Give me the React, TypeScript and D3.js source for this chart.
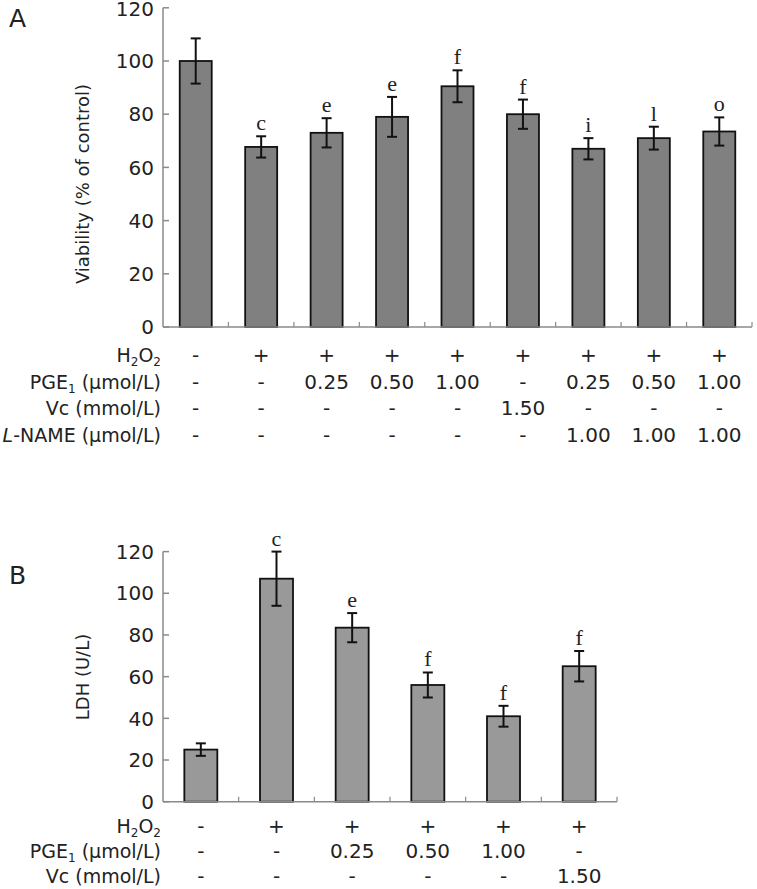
import React from 'react';
import * as d3 from 'd3';

// Panel A data
const categoriesA = ['1', '2', '3', '4', '5', '6', '7', '8', '9'];
const valuesA = [100, 67.7, 73, 79, 90.5, 80, 67, 71, 73.5];
const errorsA = [8.5, 4, 5.5, 7.5, 6, 5.5, 4, 4.3, 5.3];
const lettersA = ['', 'c', 'e', 'e', 'f', 'f', 'i', 'l', 'o'];
const ticksA = [0, 20, 40, 60, 80, 100, 120];
const rowA_H2O2 = ['-', '+', '+', '+', '+', '+', '+', '+', '+'];
const rowA_PGE1 = ['-', '-', '0.25', '0.50', '1.00', '-', '0.25', '0.50', '1.00'];
const rowA_Vc = ['-', '-', '-', '-', '-', '1.50', '-', '-', '-'];
const rowA_LNAME = ['-', '-', '-', '-', '-', '-', '1.00', '1.00', '1.00'];

// Panel B data
const categoriesB = ['1', '2', '3', '4', '5', '6'];
const valuesB = [25, 107, 83.5, 56, 41, 65];
const errorsB = [3, 13, 7, 6, 5, 7.3];
const lettersB = ['', 'c', 'e', 'f', 'f', 'f'];
const ticksB = [0, 20, 40, 60, 80, 100, 120];
const rowB_H2O2 = ['-', '+', '+', '+', '+', '+'];
const rowB_PGE1 = ['-', '-', '0.25', '0.50', '1.00', '-'];
const rowB_Vc = ['-', '-', '-', '-', '-', '1.50'];

const SANS = '"DejaVu Sans", Verdana, sans-serif';
const SERIF = '"Liberation Serif", "Times New Roman", serif';
const TXT = '#222';
const AXIS = '#8a8a8a';

type RowLabel = React.ReactNode;

function Panel(props: {
  cats: string[];
  values: number[];
  errors: number[];
  letters: string[];
  ticks: number[];
  x0: number;
  x1: number;
  y0: number;
  y1: number;
  barW: number;
  fill: string;
  rows: { label: RowLabel; vals: string[]; y: number }[];
  yTitle: string;
  yTitleX: number;
  yTitleY: number;
  panelLabel: string;
  panelLabelY: number;
}) {
  const { cats, values, errors, letters, ticks, x0, x1, y0, y1, barW, fill, rows } = props;
  const x = d3.scaleBand<string>().domain(cats).range([x0, x1]).paddingInner(0).paddingOuter(0);
  const y = d3.scaleLinear().domain([0, 120]).range([y0, y1]);
  const bw = x.bandwidth();
  return (
    <g>
      <text x={9} y={props.panelLabelY} fontFamily={SANS} fontSize={25} fill={TXT}>
        {props.panelLabel}
      </text>
      {/* y axis */}
      <line x1={x0} x2={x0} y1={y(0)} y2={y(120)} stroke={AXIS} strokeWidth={1.5} />
      {ticks.map((t) => (
        <g key={'t' + t}>
          <line x1={x0} x2={x0 + 6} y1={y(t)} y2={y(t)} stroke={AXIS} strokeWidth={1.5} />
          <text
            x={x0 - 9}
            y={Math.max(y(t), 9)}
            dy="0.36em"
            textAnchor="end"
            fontFamily={SANS}
            fontSize={20}
            fill={TXT}
          >
            {t}
          </text>
        </g>
      ))}
      <text
        transform={`translate(${props.yTitleX},${props.yTitleY}) rotate(-90)`}
        textAnchor="middle"
        dy="0.35em"
        fontFamily={SANS}
        fontSize={18}
        fill={TXT}
      >
        {props.yTitle}
      </text>
      {/* bars */}
      {cats.map((c, i) => {
        const cx = (x(c) as number) + bw / 2;
        const v = values[i];
        const e = errors[i];
        return (
          <g key={'b' + c}>
            <rect
              x={cx - barW / 2}
              y={y(v)}
              width={barW}
              height={y(0) - y(v)}
              fill={fill}
              stroke="#111"
              strokeWidth={1.8}
            />
            <line x1={cx} x2={cx} y1={y(v + e)} y2={y(v - e)} stroke="#111" strokeWidth={2} />
            <line x1={cx - 5} x2={cx + 5} y1={y(v + e)} y2={y(v + e)} stroke="#111" strokeWidth={2} />
            <line x1={cx - 5} x2={cx + 5} y1={y(v - e)} y2={y(v - e)} stroke="#111" strokeWidth={2} />
            {letters[i] && (
              <text
                x={cx}
                y={y(v + e) - 6}
                textAnchor="middle"
                fontFamily={SERIF}
                fontSize={22}
                fill={TXT}
              >
                {letters[i]}
              </text>
            )}
          </g>
        );
      })}
      {/* x axis */}
      <line x1={x0} x2={x1} y1={y(0)} y2={y(0)} stroke={AXIS} strokeWidth={1.5} />
      {cats.map((c) => (
        <line
          key={'xt' + c}
          x1={(x(c) as number) + bw}
          x2={(x(c) as number) + bw}
          y1={y(0)}
          y2={y(0) - 5}
          stroke={AXIS}
          strokeWidth={1.2}
        />
      ))}
      {/* table */}
      {rows.map((r, ri) => (
        <g key={'r' + ri}>
          <text x={161} y={r.y} dy="0.36em" textAnchor="end" fontFamily={SANS} fontSize={19} fill={TXT}>
            {r.label}
          </text>
          {r.vals.map((s, i) => (
            <text
              key={'rv' + i}
              x={(x(cats[i]) as number) + bw / 2}
              y={r.y}
              dy="0.36em"
              textAnchor="middle"
              fontFamily={SANS}
              fontSize={20}
              fill={TXT}
            >
              {s}
            </text>
          ))}
        </g>
      ))}
    </g>
  );
}

const H2O2Label = (
  <>
    H<tspan fontSize={12} dy={4}>2</tspan>
    <tspan dy={-4}>O</tspan>
    <tspan fontSize={12} dy={4}>2</tspan>
    <tspan dy={-4}></tspan>
  </>
);
const PGELabel = (
  <>
    PGE<tspan fontSize={12} dy={4}>1</tspan>
    <tspan dy={-4}> (μmol/L)</tspan>
  </>
);
const VcLabel = <>Vc (mmol/L)</>;
const LNameLabel = (
  <>
    <tspan fontStyle="italic">L</tspan>-NAME (μmol/L)
  </>
);

export default function App() {
  return (
    <svg
      width={757}
      height={889}
      viewBox="0 0 757 889"
      style={{ position: 'absolute', left: 0, top: 0, background: '#fff' }}
    >
      <rect x={0} y={0} width={757} height={889} fill="#fff" />
      <Panel
        cats={categoriesA}
        values={valuesA}
        errors={errorsA}
        letters={lettersA}
        ticks={ticksA}
        x0={163}
        x1={752}
        y0={327}
        y1={7.8}
        barW={32}
        fill="#808080"
        rows={[
          { label: H2O2Label, vals: rowA_H2O2, y: 355 },
          { label: PGELabel, vals: rowA_PGE1, y: 382 },
          { label: VcLabel, vals: rowA_Vc, y: 408 },
          { label: LNameLabel, vals: rowA_LNAME, y: 435 },
        ]}
        yTitle="Viability (% of control)"
        yTitleX={83}
        yTitleY={184}
        panelLabel="A"
        panelLabelY={27}
      />
      <Panel
        cats={categoriesB}
        values={valuesB}
        errors={errorsB}
        letters={lettersB}
        ticks={ticksB}
        x0={163}
        x1={617}
        y0={801.7}
        y1={551.6}
        barW={33}
        fill="#999999"
        rows={[
          { label: H2O2Label, vals: rowB_H2O2, y: 826 },
          { label: PGELabel, vals: rowB_PGE1, y: 851 },
          { label: VcLabel, vals: rowB_Vc, y: 876 },
        ]}
        yTitle="LDH (U/L)"
        yTitleX={83}
        yTitleY={677}
        panelLabel="B"
        panelLabelY={584}
      />
    </svg>
  );
}
